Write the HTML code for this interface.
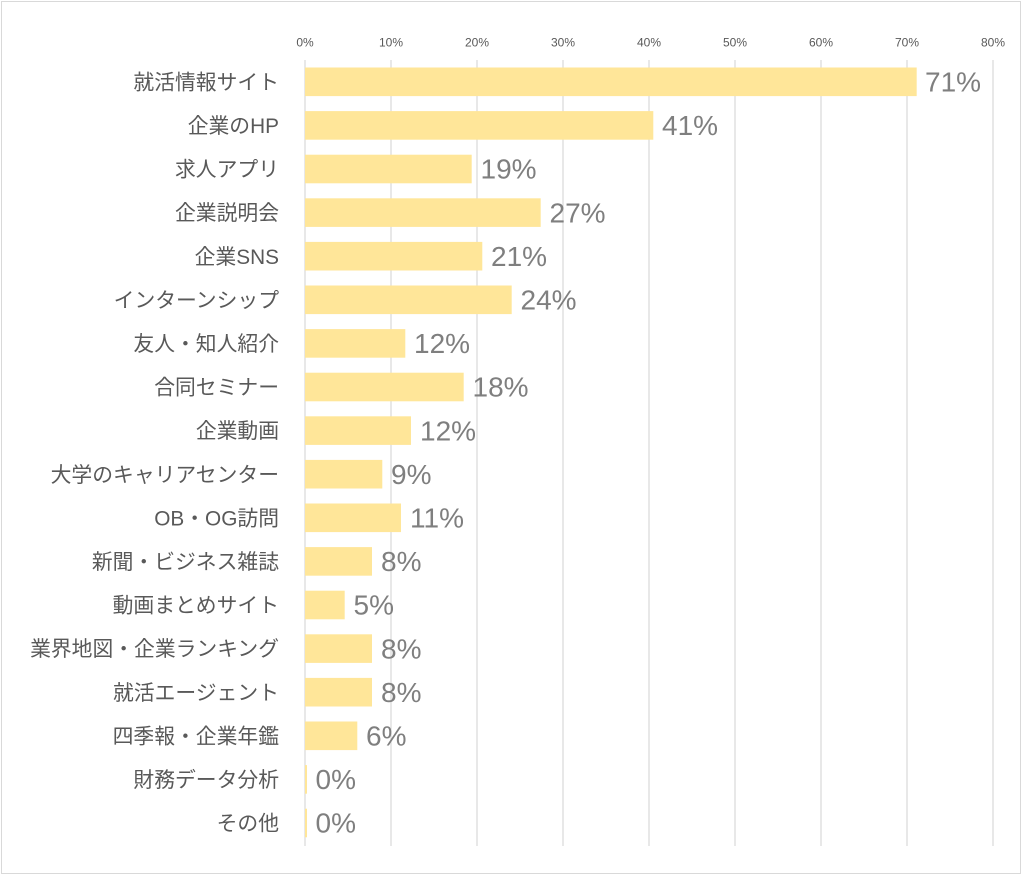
<!DOCTYPE html>
<html><head><meta charset="utf-8"><style>
html,body{margin:0;padding:0;background:#fff;}
svg{display:block;}
.tk{font-family:"Liberation Sans","Noto Sans CJK JP",sans-serif;font-size:12px;fill:#595959;text-anchor:middle;}
.cat{font-family:"Liberation Sans","Noto Sans CJK JP",sans-serif;font-size:20.8px;fill:#595959;text-anchor:end;}
.val{font-family:"Liberation Sans","Noto Sans CJK JP",sans-serif;font-size:28px;fill:#7f7f7f;}
</style></head><body>
<svg width="1024" height="877" viewBox="0 0 1024 877" xmlns="http://www.w3.org/2000/svg">
<rect x="1.5" y="1.5" width="1019" height="872" fill="#fff" stroke="#d9d9d9" stroke-width="1"/>
<g stroke="#d9d9d9" stroke-width="1.2">
<line x1="305" y1="60" x2="305" y2="846"/>
<line x1="391" y1="60" x2="391" y2="846"/>
<line x1="477" y1="60" x2="477" y2="846"/>
<line x1="563" y1="60" x2="563" y2="846"/>
<line x1="649" y1="60" x2="649" y2="846"/>
<line x1="735" y1="60" x2="735" y2="846"/>
<line x1="821" y1="60" x2="821" y2="846"/>
<line x1="907" y1="60" x2="907" y2="846"/>
<line x1="993" y1="60" x2="993" y2="846"/>
</g>
<g class="tk">
<text x="305" y="46.5">0%</text>
<text x="391" y="46.5">10%</text>
<text x="477" y="46.5">20%</text>
<text x="563" y="46.5">30%</text>
<text x="649" y="46.5">40%</text>
<text x="735" y="46.5">50%</text>
<text x="821" y="46.5">60%</text>
<text x="907" y="46.5">70%</text>
<text x="993" y="46.5">80%</text>
</g>
<g fill="#ffe699">
<rect x="305" y="67.5" width="611.7" height="28.6"/>
<rect x="305" y="111.1" width="348.3" height="28.6"/>
<rect x="305" y="154.7" width="166.7" height="28.6"/>
<rect x="305" y="198.3" width="235.7" height="28.6"/>
<rect x="305" y="241.9" width="177.3" height="28.6"/>
<rect x="305" y="285.5" width="206.7" height="28.6"/>
<rect x="305" y="329.1" width="100.3" height="28.6"/>
<rect x="305" y="372.7" width="158.7" height="28.6"/>
<rect x="305" y="416.3" width="106" height="28.6"/>
<rect x="305" y="459.9" width="77.3" height="28.6"/>
<rect x="305" y="503.5" width="96" height="28.6"/>
<rect x="305" y="547.1" width="67" height="28.6"/>
<rect x="305" y="590.7" width="39.7" height="28.6"/>
<rect x="305" y="634.3" width="67" height="28.6"/>
<rect x="305" y="677.9" width="67" height="28.6"/>
<rect x="305" y="721.5" width="52.3" height="28.6"/>
<rect x="305" y="765.1" width="2" height="28.6"/>
<rect x="305" y="808.7" width="2" height="28.6"/>
</g>
<g class="cat">
<text x="279" y="89.4">就活情報サイト</text>
<text x="279" y="133">企業のHP</text>
<text x="279" y="176.6">求人アプリ</text>
<text x="279" y="220.2">企業説明会</text>
<text x="279" y="263.8">企業SNS</text>
<text x="279" y="307.4">インターンシップ</text>
<text x="279" y="351">友人・知人紹介</text>
<text x="279" y="394.6">合同セミナー</text>
<text x="279" y="438.2">企業動画</text>
<text x="279" y="481.8">大学のキャリアセンター</text>
<text x="279" y="525.4">OB・OG訪問</text>
<text x="279" y="569">新聞・ビジネス雑誌</text>
<text x="279" y="612.6">動画まとめサイト</text>
<text x="279" y="656.2">業界地図・企業ランキング</text>
<text x="279" y="699.8">就活エージェント</text>
<text x="279" y="743.4">四季報・企業年鑑</text>
<text x="279" y="787">財務データ分析</text>
<text x="279" y="830.6">その他</text>
</g>
<g class="val">
<text x="925" y="91.5">71%</text>
<text x="662" y="135.1">41%</text>
<text x="480.5" y="178.7">19%</text>
<text x="549.5" y="222.3">27%</text>
<text x="491" y="265.9">21%</text>
<text x="520.5" y="309.5">24%</text>
<text x="414" y="353.1">12%</text>
<text x="472.5" y="396.7">18%</text>
<text x="420" y="440.3">12%</text>
<text x="391" y="483.9">9%</text>
<text x="410" y="527.5">11%</text>
<text x="381" y="571.1">8%</text>
<text x="353.5" y="614.7">5%</text>
<text x="381" y="658.3">8%</text>
<text x="381" y="701.9">8%</text>
<text x="366" y="745.5">6%</text>
<text x="315.5" y="789.1">0%</text>
<text x="315.5" y="832.7">0%</text>
</g>
</svg>
</body></html>
